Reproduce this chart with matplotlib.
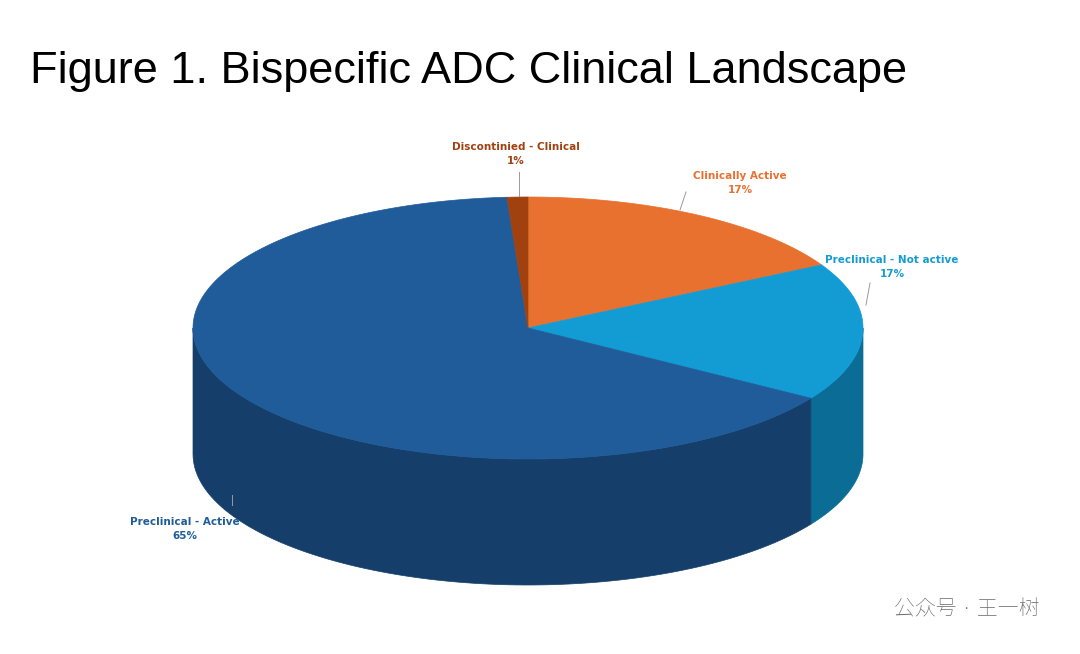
import numpy as np
import matplotlib
matplotlib.use("Agg")
import matplotlib.pyplot as plt
from matplotlib.patches import Polygon
from matplotlib import font_manager as fm

categories = ["Clinically Active", "Preclinical - Not active", "Preclinical - Active", "Discontinied - Clinical"]
values = [17, 17, 65, 1]
top_colors = ["#E87130", "#139BD4", "#1F5C99", "#A0410F"]
side_colors = ["#A84E1E", "#0B6C96", "#153F6A", "#6E2C0A"]

fig = plt.figure(figsize=(10.8, 6.54), dpi=100)
ax = fig.add_axes([0, 0, 1, 1])
ax.set_xlim(0, 1080); ax.set_ylim(654, 0); ax.axis("off")

cx, cy, a, b, depth = 528, 328, 335, 131, 126
fr = np.array(values) / sum(values)
starts = 90 - 360 * np.concatenate([[0], np.cumsum(fr)[:-1]])
ends = starts - 360 * fr

def pt(t, d=0):
    r = np.radians(t)
    return cx + a * np.cos(r), cy - b * np.sin(r) + d

for s, e, c in zip(starts, ends, side_colors):
    for l, h in ((max(e, -180), min(s, 0)), (max(e + 360, -180), min(s + 360, 0))):
        if h > l:
            ts = np.linspace(l, h, 100)
            top = np.array([pt(t) for t in ts])
            bot = np.array([pt(t, depth) for t in ts[::-1]])
            ax.add_patch(Polygon(np.vstack([top, bot]), closed=True, fc=c, ec=c, lw=0.5))

for s, e, c in zip(starts, ends, top_colors):
    ts = np.linspace(s, e, 200)
    pts = [(cx, cy)] + [pt(t) for t in ts]
    ax.add_patch(Polygon(pts, closed=True, fc=c, ec=c, lw=0.5))

ax.text(30, 72, "Figure 1. Bispecific ADC Clinical Landscape", fontsize=32.5,
        family="Liberation Sans", va="center", ha="left", color="black")

labels = [(740, 183, 680, 210, 686, 192), (892, 267, 866, 305, 870, 283),
          (185, 529, 232, 505, 232, 495), (516, 154, 519, 196, 519, 172)]
for (lx, ly, x0, y0, x1, y1), name, v, c in zip(labels, categories, values, top_colors):
    ax.text(lx, ly, f"{name}\n{v}%", fontsize=7.5, fontweight="bold", color=c,
            ha="center", va="center", linespacing=1.4, family="DejaVu Sans")
    ax.plot([x0, x1], [y0, y1], color="#9a9a9a", lw=0.7)

cjk = None
for f in fm.fontManager.ttflist:
    if "CJK" in f.name:
        cjk = f.fname
        if "SC" in f.name:
            break
prop = fm.FontProperties(fname=cjk, size=15) if cjk else fm.FontProperties(size=15)
ax.text(1040, 610, "公众号 · 王一树", fontproperties=prop,
        color="#666666", ha="right", va="center")
fig.savefig("out.png", dpi=100)
